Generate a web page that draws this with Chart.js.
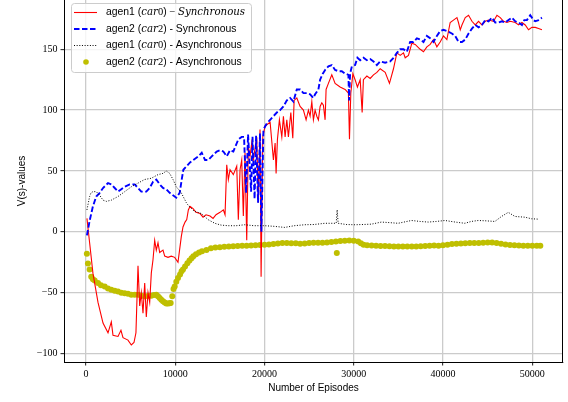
<!DOCTYPE html>
<html>
<head>
<meta charset="utf-8">
<script src="https://cdn.jsdelivr.net/npm/chart.js@4.4.0/dist/chart.umd.min.js"></script>
<style>
  html, body { margin: 0; padding: 0; background: #fff; }
  canvas { display: block; }
</style>
</head>
<body>
<canvas id="chart" width="568" height="402"></canvas>
<script>
// ---- data ----

// agen1 (car0) - Synchronous
const redEp = [110, 410, 780, 1350, 1910, 2470, 2840, 3030, 3590, 3920, 4150, 4710, 5080, 5380, 5600, 5830, 6020, 6200, 6390, 6580, 6760, 6950, 7140, 7320, 7510, 7700, 7880, 8070, 8260, 8630, 8820, 9190, 9560, 9940, 10310, 10540, 10680, 10870, 11100, 11290, 11470, 11660, 12000, 12330, 12780, 13120, 13450, 13900, 14240, 14570, 15020, 15390, 15580, 15770, 15950, 16140, 16510, 16890, 17070, 17260, 17450, 17630, 17820, 18010, 18190, 18380, 18570, 18750, 19130, 19310, 19500, 19620, 19810, 20070, 20630, 21000, 21190, 21300, 21450, 21670, 21940, 22120, 22310, 22500, 22680, 22950, 23170, 23320, 23620, 23990, 24360, 24660, 24920, 25110, 25300, 25480, 25670, 25860, 26040, 26230, 26420, 26600, 26790, 26900, 27160, 27540, 27910, 28470, 29030, 29400, 29520, 29670, 29900, 30150, 30410, 30720, 30940, 31080, 31470, 31840, 32210, 32590, 32960, 33520, 34000, 34450, 34830, 35200, 35570, 35760, 36130, 36510, 36880, 37440, 37810, 38190, 38560, 38930, 39310, 39680, 40050, 40430, 40800, 41170, 41560, 41730, 41930, 42120, 42490, 42860, 43240, 43610, 43980, 44360, 44730, 45100, 45660, 46040, 46410, 46780, 47160, 47530, 48090, 48460, 48840, 49210, 49580, 49960, 50330, 50700, 51080];
const redVal = [11, -9, -34, -58, -75, -83, -74, -85, -86, -81, -87, -89, -93, -91, -83, -28, -61, -50, -67, -42, -70, -50, -58, -34, -23, -7, -15, -9, -17, -15, -20, -21, -20, -21, -25, -12, -4, 4, 8, 10, 18, 21, 19, 16, 15, 12, 14, 13, 11, 14, 16, 18, 14, 55, 43, 51, 47, 54, 10, 51, 59, 13, 65, -7, 70, 62, 73, 59, 78, 24, 84, -37, 78, 87, 90, 59, 73, 48, 76, 92, 78, 95, 78, 92, 78, 98, 77, 108, 110, 103, 100, 92, 100, 95, 107, 92, 100, 95, 92, 103, 106, 104, 92, 117, 122, 129, 122, 119, 117, 114, 76, 114, 130, 125, 119, 125, 98, 125, 128, 126, 129, 131, 134, 131, 122, 134, 147, 145, 147, 143, 145, 155, 154, 150, 148, 152, 154, 158, 152, 156, 161, 158, 172, 174, 176, 172, 166, 170, 176, 178, 173, 170, 173, 170, 173, 174, 173, 178, 176, 173, 172, 173, 172, 170, 172, 170, 166, 168, 168, 167, 166];

// agen2 (car2) - Synchronous
const blueEp = [110, 410, 780, 1150, 1540, 1910, 2470, 2840, 3220, 3590, 3960, 4340, 4900, 5460, 5830, 6200, 6760, 7140, 7510, 7880, 8260, 8630, 9000, 9380, 9750, 10120, 10500, 10730, 10910, 11290, 11660, 12030, 12590, 12970, 13340, 13710, 14090, 14650, 15020, 15390, 15770, 16140, 16510, 17070, 17450, 17710, 17940, 18160, 18500, 18660, 18890, 19060, 19280, 19500, 19650, 19880, 20260, 20630, 21000, 21380, 21750, 22120, 22500, 22870, 23240, 23620, 23990, 24360, 24740, 25110, 25480, 25670, 26040, 26230, 26530, 26790, 27160, 27540, 27910, 28280, 28660, 29030, 29400, 29480, 29590, 29790, 30150, 30410, 30720, 31090, 31470, 31840, 32210, 32590, 32960, 33520, 34080, 34450, 34830, 35200, 35570, 35950, 36320, 36690, 37070, 37440, 37810, 38190, 38560, 38930, 39310, 39680, 40050, 40430, 40990, 41360, 41740, 42120, 42490, 42860, 43240, 43610, 43980, 44360, 44730, 45100, 45480, 45850, 46220, 46600, 46970, 47340, 47720, 48090, 48460, 48840, 49100, 49400, 49770, 50140, 50330, 50700, 51080];
const blueVal = [-3, 9, 21, 29, 32, 36, 40, 39, 36, 33, 35, 37, 39, 39, 36, 33, 33, 36, 41, 43, 39, 36, 35, 32, 30, 28, 32, 43, 51, 54, 57, 59, 62, 65, 59, 59, 62, 66, 67, 66, 62, 67, 66, 76, 78, 78, 32, 80, 33, 78, 27, 79, 24, 81, 0, 84, 89, 92, 95, 98, 100, 103, 108, 110, 107, 117, 117, 114, 114, 113, 110, 113, 117, 125, 130, 133, 136, 137, 133, 132, 132, 130, 129, 108, 130, 136, 137, 143, 141, 143, 141, 142, 140, 137, 140, 139, 140, 143, 147, 150, 150, 148, 156, 156, 159, 158, 156, 161, 159, 156, 161, 165, 166, 165, 163, 161, 156, 156, 158, 163, 167, 170, 168, 170, 174, 173, 176, 172, 172, 173, 172, 174, 176, 173, 172, 170, 174, 174, 178, 174, 173, 174, 176];

// agen1 (car0) - Asynchronous
const blackEp = [110, 410, 560, 780, 1150, 1540, 1910, 2280, 2840, 3590, 4340, 5080, 5830, 6580, 7320, 8070, 8630, 9000, 9380, 9750, 10120, 10680, 11240, 11430, 12110, 12930, 13680, 14430, 15130, 15920, 16820, 17790, 18830, 20030, 21070, 22270, 23320, 24520, 25560, 26760, 28030, 28140, 28250, 29150, 30120, 31050, 31980, 33100, 34080, 34980, 36470, 37440, 38340, 39240, 40210, 41370, 42450, 43160, 43940, 44840, 45810, 46550, 47310, 48060, 49180, 49920, 50670];
const blackVal = [18, 29, 32, 33, 33, 30, 26, 25, 26, 29, 33, 37, 40, 43, 44, 47, 48, 50, 48, 43, 37, 32, 24, 22, 17, 15, 10, 7, 5.5, 5, 5, 5.8, 5, 5, 4.5, 3.6, 5, 5.8, 6, 7, 7, 18, 7, 6, 5.8, 6, 6.3, 8, 7.5, 7, 9.3, 8.5, 8, 8.5, 9.3, 8, 7, 8.5, 9.3, 9, 8.5, 12.6, 16, 12.6, 12, 10.7, 10.4];

// agen2 (car2) - Asynchronous (dots)
const yellowEp = [100, 220, 410, 590, 780, 980, 1350, 1680, 2100, 2470, 2840, 3220, 3590, 3960, 4340, 4710, 5080, 5460, 5830, 6200, 6580, 6950, 7320, 7620, 7880, 8070, 8260, 8440, 8630, 8820, 9000, 9190, 9360, 9490, 9670, 9810, 9940, 10120, 10310, 10540, 10710, 10870, 11100, 11360, 11600, 11830, 12030, 12330, 12670, 13000, 13500, 14000, 14500, 15000, 15500, 16000, 16500, 17000, 17500, 18000, 18500, 19000, 19500, 20000, 20500, 21000, 21500, 22000, 22500, 23000, 23500, 24000, 24500, 25000, 25500, 26000, 26500, 27000, 27500, 28000, 28100, 28500, 29000, 29500, 30000, 30500, 30800, 31100, 31500, 32000, 32500, 33000, 33500, 34000, 34500, 35000, 35500, 36000, 36500, 37000, 37500, 38000, 38500, 39000, 39500, 40000, 40500, 41000, 41500, 42000, 42500, 43000, 43500, 44000, 44500, 45000, 45500, 46000, 46500, 47000, 47500, 48000, 48500, 49000, 49500, 50000, 50500, 50900];
const yellowVal = [-18, -26, -31, -37, -39, -40, -42, -44, -45, -46.5, -47.7, -48.5, -49, -50, -50.4, -51, -51.8, -51.8, -51.8, -52.5, -53, -52.8, -52.6, -52, -51.8, -53, -54.5, -55.8, -57, -58, -59, -59, -58.8, -58.6, -53, -47, -45, -41, -38, -35, -32.5, -31, -28.5, -25.8, -23.5, -21.8, -20, -18.5, -17, -16, -15, -13.6, -13, -12.6, -12.2, -12, -11.8, -11.6, -11.5, -11.4, -11.2, -11, -10.8, -10.7, -10.4, -10, -9.6, -9.3, -9.3, -9.5, -9.5, -9.8, -9.6, -9.3, -9.1, -9, -9, -8.8, -8.3, -8, -17.5, -7.6, -7.3, -7.2, -7.3, -8, -9.5, -10.7, -11, -11.2, -11.5, -11.6, -11.7, -11.8, -12, -12, -12, -12, -12, -12, -11.9, -11.7, -11.5, -11.3, -11.5, -11, -10.6, -10.1, -9.9, -9.7, -9.5, -9.3, -9.3, -9.3, -9, -8.8, -8.8, -9.2, -9.9, -10.5, -10.8, -11, -11.2, -11.5, -11.5, -11.5, -11.5, -11.5];

// tick labels
const xTicks = [0, 10000, 20000, 30000, 40000, 50000];
const yTicks = [-100, -50, 0, 50, 100, 150];

// ---- helpers ----
function toPoints(xs, ys) {
  return xs.map((x, i) => ({ x: x, y: ys[i] }));
}

function fmtTick(value) {
  return value < 0 ? "\u2212" + Math.abs(value) : String(value);
}

const serifTicks = { family: "'Liberation Serif', 'DejaVu Serif', serif", size: 10 };
const sansTitle = { family: "'Liberation Sans', 'DejaVu Sans', sans-serif", size: 10 };

// legend rows: text pieces ("" = sans, "i" = math italic, "d" = math upright)
const legendRows = [
  { kind: "red", parts: [["agen1 (", ""], ["car", "i"], ["0", "d"], [") ", ""], ["\u2212 ", "d"], ["Synchronous", "i"]] },
  { kind: "blue", parts: [["agen2 (", ""], ["car", "i"], ["2", "d"], [") - Synchronous", ""]] },
  { kind: "black", parts: [["agen1 (", ""], ["car", "i"], ["0", "d"], [") - Asynchronous", ""]] },
  { kind: "dot", parts: [["agen2 (", ""], ["car", "i"], ["2", "d"], [") - Asynchronous", ""]] }
];
const legendFonts = {
  "": "10.4px 'Liberation Sans'",
  "i": "italic 10.2px 'DejaVu Serif'",
  "d": "10.5px 'Liberation Serif'"
};

// right spine + box legend in the upper left, like matplotlib
const boxLegend = {
  id: "boxLegend",
  afterDatasetsDraw(chart) {
    const ctx = chart.ctx;
    const a = chart.chartArea;
    ctx.save();
    ctx.strokeStyle = "#000";
    ctx.lineWidth = 1;
    ctx.beginPath();
    ctx.moveTo(a.right - 0.5, a.top);
    ctx.lineTo(a.right - 0.5, a.bottom);
    ctx.stroke();
    ctx.restore();
  },
  afterDraw(chart) {
    const ctx = chart.ctx;
    ctx.save();
    ctx.fillStyle = "rgba(255,255,255,0.8)";
    ctx.strokeStyle = "#cccccc";
    ctx.lineWidth = 1;
    ctx.beginPath();
    ctx.roundRect(71.5, 3.5, 180, 69, 3);
    ctx.fill();
    ctx.stroke();

    const rowY = [12.5, 29, 45.5, 62];
    legendRows.forEach((row, i) => {
      const y = rowY[i];
      ctx.setLineDash([]);
      if (row.kind === "red") {
        ctx.strokeStyle = "#ff0000";
        ctx.lineWidth = 1.1;
      } else if (row.kind === "blue") {
        ctx.strokeStyle = "#0000ff";
        ctx.lineWidth = 1.9;
        ctx.setLineDash([5.5, 2.5]);
      } else if (row.kind === "black") {
        ctx.strokeStyle = "#000000";
        ctx.lineWidth = 1;
        ctx.setLineDash([1, 1.65]);
      }
      if (row.kind === "dot") {
        ctx.fillStyle = "#bfbf00";
        ctx.beginPath();
        ctx.arc(86, y, 2.8, 0, Math.PI * 2);
        ctx.fill();
      } else {
        ctx.beginPath();
        ctx.moveTo(74, y);
        ctx.lineTo(97, y);
        ctx.stroke();
      }
      ctx.setLineDash([]);
      let x = 106;
      ctx.fillStyle = "#000";
      ctx.textBaseline = "middle";
      row.parts.forEach(p => {
        ctx.font = legendFonts[p[1]];
        ctx.fillText(p[0], x, y);
        x += ctx.measureText(p[0]).width;
      });
    });
    ctx.restore();
  }
};

new Chart(document.getElementById("chart"), {
  type: "line",
  data: {
    datasets: [
      {
        label: "agen1 (car0) - Synchronous",
        data: toPoints(redEp, redVal),
        borderColor: "#ff0000",
        borderWidth: 1.1,
        pointRadius: 0,
        pointHoverRadius: 0,
        order: 2
      },
      {
        label: "agen2 (car2) - Synchronous",
        data: toPoints(blueEp, blueVal),
        borderColor: "#0000ff",
        borderWidth: 1.9,
        borderDash: [5.5, 2.5],
        pointRadius: 0,
        pointHoverRadius: 0,
        order: 1
      },
      {
        label: "agen1 (car0) - Asynchronous",
        data: toPoints(blackEp, blackVal),
        borderColor: "#000000",
        borderWidth: 1,
        borderDash: [1, 1.65],
        pointRadius: 0,
        pointHoverRadius: 0,
        order: 0
      },
      {
        label: "agen2 (car2) - Asynchronous",
        data: toPoints(yellowEp, yellowVal),
        showLine: false,
        pointRadius: 3,
        pointHoverRadius: 3,
        pointBorderWidth: 0,
        pointBackgroundColor: "#bfbf00",
        order: 3
      }
    ]
  },
  options: {
    responsive: false,
    animation: false,
    devicePixelRatio: 1,
    layout: { autoPadding: false, padding: { left: 0, right: 5, top: 0, bottom: 0 } },
    plugins: {
      legend: { display: false },
      tooltip: { enabled: false }
    },
    scales: {
      x: {
        type: "linear",
        min: -2460,
        max: 53440,
        afterBuildTicks: scale => { scale.ticks = xTicks.map(v => ({ value: v })); },
        afterFit: scale => {
          scale.height = 40;
          scale.paddingLeft = 0;
          scale.paddingRight = 0;
        },
        ticks: {
          autoSkip: false,
          maxRotation: 0,
          padding: 3,
          color: "#000",
          font: serifTicks,
          callback: fmtTick
        },
        grid: {
          color: "rgb(203,203,203)",
          lineWidth: 1.3,
          tickColor: "#000",
          tickLength: 3.5,
          tickWidth: 0.9
        },
        border: { display: true, color: "#000", width: 1 },
        title: {
          display: true,
          text: "Number of Episodes",
          color: "#000",
          font: sansTitle,
          padding: { top: 0, bottom: 8 }
        }
      },
      y: {
        type: "linear",
        min: -107,
        max: 190.5,
        afterBuildTicks: scale => { scale.ticks = yTicks.map(v => ({ value: v })); },
        afterFit: scale => {
          scale.width = 64;
          scale.paddingTop = 0;
          scale.paddingBottom = 0;
        },
        ticks: {
          padding: 3,
          color: "#000",
          font: serifTicks,
          callback: fmtTick
        },
        grid: {
          color: "rgb(203,203,203)",
          lineWidth: 1.3,
          tickColor: "#000",
          tickLength: 3.5,
          tickWidth: 0.9
        },
        border: { display: true, color: "#000", width: 1 },
        title: {
          display: true,
          text: "V(s)-values",
          color: "#000",
          font: sansTitle,
          padding: { top: 16, bottom: 0 }
        }
      }
    }
  },
  plugins: [boxLegend]
});
</script>
</body>
</html>
